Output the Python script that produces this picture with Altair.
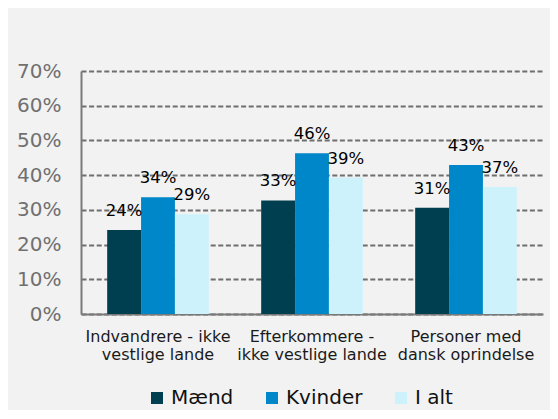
import altair as alt
import pandas as pd

groups = ["Indvandrere - ikke\nvestlige lande", "Efterkommere -\nikke vestlige lande", "Personer med\ndansk oprindelse"]
series = ["Mænd", "Kvinder", "I alt"]
maend = [0.242, 0.327, 0.306]
kvinder = [0.336, 0.463, 0.429]
i_alt = [0.287, 0.393, 0.366]
colors = ["#003f50", "#0087c9", "#cdf2fc"]
y_ticks = [0, 0.1, 0.2, 0.3, 0.4, 0.5, 0.6, 0.7]

rows = []
for i, g in enumerate(groups):
    for s, vals in zip(series, [maend, kvinder, i_alt]):
        rows.append({"group": g, "serie": s, "value": vals[i]})
df = pd.DataFrame(rows)

FONT = "DejaVu Sans"

base = alt.Chart(df).encode(
    x=alt.X("group:N", sort=groups,
            scale=alt.Scale(paddingInner=0.34, paddingOuter=0.17),
            axis=alt.Axis(title=None, labelAngle=0, labelExpr="split(datum.label, '\\n')",
                          labelFontSize=16, labelColor="#1a1a1a", labelPadding=14,
                          labelLineHeight=18, ticks=False, domainColor="#7a7a7a",
                          domainWidth=2, grid=False, labelFont=FONT)),
    xOffset=alt.XOffset("serie:N", sort=series, scale=alt.Scale(paddingInner=0, paddingOuter=0)),
)

bars = base.mark_bar().encode(
    y=alt.Y("value:Q", scale=alt.Scale(domain=[0, 0.7], nice=False),
            axis=alt.Axis(title=None, values=y_ticks, tickCount=len(y_ticks), format=".0%",
                          ticks=False, labelOverlap=False, labelFlush=False, labelBound=False,
                          labelFontSize=20, labelColor="#707070", labelPadding=20,
                          labelFont=FONT, domainColor="#7a7a7a", domainWidth=2,
                          gridColor="#6e6e6e", gridDash=[5, 2.6], gridWidth=2)),
    color=alt.Color("serie:N", sort=series,
                    scale=alt.Scale(domain=series, range=colors),
                    legend=alt.Legend(title=None, orient="none", legendX=66, legendY=317,
                                      direction="horizontal", symbolType="square",
                                      symbolSize=144, symbolStrokeWidth=0,
                                      labelFontSize=20, labelColor="#111111",
                                      labelFont=FONT, columnPadding=28, labelOffset=4)),
)

labels = base.mark_text(baseline="alphabetic", dy=-14, fontSize=16.5, color="#000000",
                        font=FONT).encode(
    y=alt.Y("value:Q"),
    text=alt.Text("value:Q", format=".0%"),
)

chart = alt.layer(bars, labels).properties(
    width=462, height=243,
    autosize=alt.AutoSizeParams(type="none"),
    padding={"left": 73, "top": 63, "right": 7, "bottom": 96},
    background="#f2f2f2",
).configure_view(stroke=None)

chart.save("out.html", embed_options={"renderer": "svg", "actions": False})
